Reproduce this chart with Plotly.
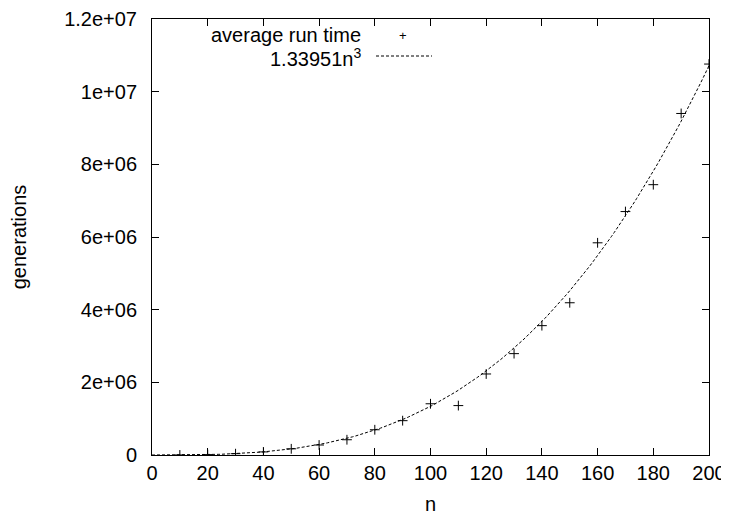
import numpy as np
import plotly.graph_objects as go

# measured average run time (generations) per n
n_vals = [10, 20, 30, 40, 50, 60, 70, 80, 90, 100,
          110, 120, 130, 140, 150, 160, 170, 180, 190, 200]
avg_gen = [1300, 11000, 36000, 85000, 170000, 275000, 420000, 695000, 945000, 1410000,
           1360000, 2230000, 2790000, 3560000, 4190000, 5840000, 6700000, 7440000, 9400000, 10760000]

fit_coef = 1.33951
fit_label = "1.33951n<sup>3</sup>"
pts_label = "average run time"

x_ticks = [0, 20, 40, 60, 80, 100, 120, 140, 160, 180, 200]
y_ticks = [0, 2e6, 4e6, 6e6, 8e6, 1e7, 1.2e7]
y_ticktext = ["0", "2e+06", "4e+06", "6e+06", "8e+06", "1e+07", "1.2e+07"]

n_fit = np.linspace(0, 200, 201)
fit_vals = fit_coef * n_fit ** 3

FONT = "Liberation Sans, Arial, sans-serif"
FS = 20

fig = go.Figure()
fig.add_trace(go.Scatter(x=n_fit, y=fit_vals, mode="lines",
                         line=dict(color="black", width=1, dash="3px,2px"),
                         name=fit_label))
fig.add_trace(go.Scatter(x=n_vals, y=avg_gen, mode="markers",
                         marker=dict(symbol="cross-thin", size=7,
                                     line=dict(color="black", width=1)),
                         name=pts_label))

axis_common = dict(showgrid=False, zeroline=False, showline=True, linecolor="black",
                   linewidth=1, mirror="ticks", ticks="inside", ticklen=7,
                   tickcolor="black", tickwidth=1, automargin=False,
                   ticklabeloverflow="allow",
                   tickfont=dict(family=FONT, size=FS, color="black"))

fig.update_xaxes(range=[0, 200], tickvals=x_ticks,
                 title=dict(text="n", font=dict(family=FONT, size=FS, color="black"),
                            standoff=16),
                 **axis_common)
fig.update_yaxes(range=[0, 1.2e7], tickvals=y_ticks, ticktext=y_ticktext,
                 ticklabelstandoff=10,
                 title=dict(text="generations", font=dict(family=FONT, size=FS, color="black"),
                            standoff=41),
                 **axis_common)

# gnuplot style key: text right-aligned, sample to its right
# (plot area spans 557 x 436 px)
annots = [
    dict(text=pts_label, x=211 / 557, y=(436 - 16) / 436, xanchor="right", size=FS),
    dict(text="+", x=251 / 557, y=(436 - 16) / 436, xanchor="center", size=13),
    dict(text=fit_label, x=211 / 557, y=(436 - 38) / 436, xanchor="right", size=FS),
]
for a in annots:
    fig.add_annotation(xref="paper", yref="paper", showarrow=False, yanchor="middle",
                       text=a["text"], x=a["x"], y=a["y"], xanchor=a["xanchor"],
                       font=dict(family=FONT, size=a["size"], color="black"))
fig.add_shape(type="line", xref="paper", yref="paper",
              x0=224 / 557, x1=280 / 557,
              y0=(436 - 37) / 436, y1=(436 - 37) / 436,
              line=dict(color="black", width=1, dash="3px,2px"))

# page body has an 8px margin, so the figure is sized to fit the 729x515 view
fig.update_layout(width=721, height=507, showlegend=False,
                  plot_bgcolor="white", paper_bgcolor="white",
                  margin=dict(l=144, r=20, t=11, b=60),
                  font=dict(family=FONT, size=FS, color="black"))

fig.write_html("out.html")
